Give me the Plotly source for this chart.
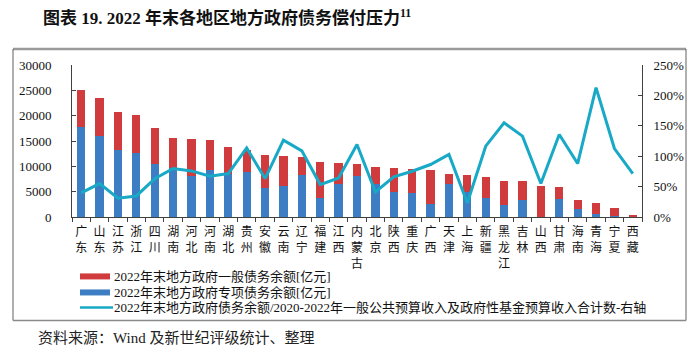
import plotly.graph_objects as go

provinces = ["广东", "山东", "江苏", "浙江", "四川", "湖南", "河北", "河南", "湖北", "贵州",
             "安徽", "云南", "辽宁", "福建", "江西", "内蒙古", "北京", "陕西", "重庆", "广西",
             "天津", "上海", "新疆", "黑龙江", "吉林", "山西", "甘肃", "海南", "青海", "宁夏", "西藏"]

# 一般债务余额 (亿元) - red
general_debt = [7350, 7550, 7450, 7400, 7200, 5900, 7200, 5750, 5400, 4300,
                6500, 5800, 3550, 7000, 4150, 2300, 3300, 4700, 4750, 6600,
                2050, 3400, 4050, 4750, 3750, 6150, 2500, 1750, 2300, 1600, 400]

# 专项债务余额 (亿元) - blue
special_debt = [17700, 16000, 13200, 12650, 10400, 9750, 8100, 9350, 8400, 8900,
                5800, 6200, 8200, 3800, 6600, 8100, 6600, 5000, 4800, 2650,
                6450, 4950, 3750, 2350, 3300, 0, 3500, 1600, 500, 250, 0]

# 债务余额 / 2020-2022 收入合计 (%) - right axis
ratio_pct = [39.6, 55.0, 30.8, 34.6, 63.0, 79.7, 75.8, 67.0, 71.4, 113.7,
             63.2, 126.4, 108.8, 53.3, 64.3, 119.2, 41.2, 65.9, 75.3, 86.3,
             102.8, 23.0, 116.5, 155.0, 133.0, 55.0, 135.7, 87.9, 212.7, 112.6, 71.4]

left_ticks = [0, 5000, 10000, 15000, 20000, 25000, 30000]
left_tick_labels = ["0", "5000", "10000", "15000", "20000", "25000", "30000"]
right_ticks = [0, 0.5, 1.0, 1.5, 2.0, 2.5]
right_tick_labels = ["0%", "50%", "100%", "150%", "200%", "250%"]

legend_labels = ["2022年末地方政府一般债务余额[亿元]",
                 "2022年末地方政府专项债务余额[亿元]",
                 "2022年末地方政府债务余额/2020-2022年一般公共预算收入及政府性基金预算收入合计数-右轴"]

title_text = "图表 19. 2022 年末各地区地方政府债务偿付压力"
source_text = "资料来源：Wind 及新世纪评级统计、整理"

RED = "#D03C3E"
BLUE = "#3D7DC4"
CYAN = "#17A9C6"
FONT = "Liberation Serif, Noto Sans CJK SC, serif"

W, H = 699, 355
L, R, T, B = 72, 642, 65, 216.7


def px(x):
    return (x - L) / (R - L)


def py(y):
    return (B - y) / (B - T)


tick_text = ["<br>".join(list(p)) for p in provinces]

fig = go.Figure()
fig.add_trace(go.Bar(x=provinces, y=special_debt, marker=dict(color=BLUE, line=dict(width=0)),
                     name=legend_labels[1], showlegend=False))
fig.add_trace(go.Bar(x=provinces, y=general_debt, marker=dict(color=RED, line=dict(width=0)),
                     name=legend_labels[0], showlegend=False))
fig.add_trace(go.Scatter(x=provinces, y=[v / 100 for v in ratio_pct], mode="lines",
                         line=dict(color=CYAN, width=3), yaxis="y2",
                         name=legend_labels[2], showlegend=False))

shapes = []
annotations = []

# frame
shapes.append(dict(type="line", xref="paper", yref="paper", x0=px(13), x1=px(686), y0=py(49), y1=py(49),
                   line=dict(color="#9A9A9A", width=2.5)))
shapes.append(dict(type="line", xref="paper", yref="paper", x0=px(13), x1=px(13), y0=py(49), y1=py(320),
                   line=dict(color="#606060", width=1)))
shapes.append(dict(type="line", xref="paper", yref="paper", x0=px(686), x1=px(686), y0=py(49), y1=py(320),
                   line=dict(color="#606060", width=1)))
shapes.append(dict(type="line", xref="paper", yref="paper", x0=px(13), x1=px(686), y0=py(320), y1=py(320),
                   line=dict(color="#8A8A8A", width=1.5)))

# manual legend
rows = [276, 292, 307]
shapes.append(dict(type="rect", xref="paper", yref="paper", x0=px(80), x1=px(110),
                   y0=py(rows[0] - 3), y1=py(rows[0] + 3), fillcolor=RED, line=dict(width=0)))
shapes.append(dict(type="rect", xref="paper", yref="paper", x0=px(80), x1=px(110),
                   y0=py(rows[1] - 3), y1=py(rows[1] + 3), fillcolor=BLUE, line=dict(width=0)))
shapes.append(dict(type="line", xref="paper", yref="paper", x0=px(80), x1=px(113),
                   y0=py(rows[2]), y1=py(rows[2]), line=dict(color=CYAN, width=2.5)))
for r, lab in zip(rows, legend_labels):
    annotations.append(dict(xref="paper", yref="paper", x=px(112), y=py(r), text=lab, showarrow=False,
                            xanchor="left", yanchor="middle", font=dict(family=FONT, size=13, color="#111")))

annotations.append(dict(xref="paper", yref="paper", x=px(41), y=py(17),
                        text="<b>" + title_text + "<sup>11</sup></b>", showarrow=False,
                        xanchor="left", yanchor="middle", font=dict(family=FONT, size=17, color="#111")))
annotations.append(dict(xref="paper", yref="paper", x=px(36), y=py(337), text=source_text, showarrow=False,
                        xanchor="left", yanchor="middle", font=dict(family=FONT, size=15, color="#222")))

fig.update_layout(
    width=W, height=H,
    margin=dict(l=L, r=W - R, t=T, b=H - B, pad=0, autoexpand=False),
    barmode="stack", bargap=0.55,
    plot_bgcolor="white", paper_bgcolor="white",
    font=dict(family=FONT, size=13, color="#111"),
    showlegend=False,
    xaxis=dict(tickmode="array", tickvals=provinces, ticktext=tick_text, showline=True,
               linecolor="#404040", linewidth=1, ticks="outside", tickson="boundaries", ticklen=4,
               tickcolor="#404040", tickfont=dict(size=12, family=FONT), showgrid=False,
               tickangle=0, automargin=False, ticklabelstandoff=4,
               range=[-0.5, len(provinces) - 0.5]),
    yaxis=dict(range=[0, 30000], tickmode="array", tickvals=left_ticks, ticktext=left_tick_labels,
               showline=True, linecolor="#404040", linewidth=1,
               ticks="inside", ticklen=4, tickcolor="#404040", showgrid=False, zeroline=False,
               tickfont=dict(size=13, family=FONT), ticklabelstandoff=17, automargin=False),
    yaxis2=dict(range=[0, 2.5], tickmode="array", tickvals=right_ticks, ticktext=right_tick_labels,
                overlaying="y", side="right",
                showline=True, linecolor="#404040", linewidth=1, ticks="inside", ticklen=4,
                tickcolor="#404040", showgrid=False, zeroline=False,
                tickfont=dict(size=13, family=FONT), ticklabelstandoff=8, automargin=False),
    shapes=shapes,
    annotations=annotations,
)

fig.write_html("out.html", config={"displayModeBar": False},
               post_script="document.body.style.margin='0';document.body.style.padding='0';")
